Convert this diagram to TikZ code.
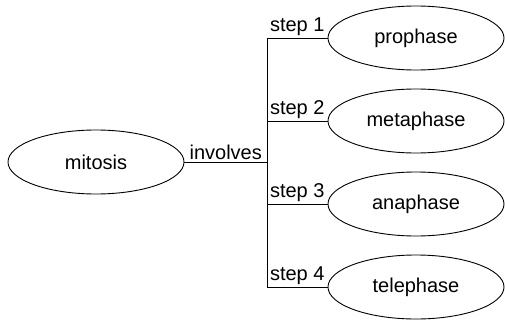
\documentclass[tikz,border=0pt]{standalone}
\usepackage{fontspec}
\setmainfont{Liberation Sans}
\usepackage{tikz}
\usetikzlibrary{shapes.geometric}

\tikzset{
	phase/.style={ellipse, draw, line width=0.9pt, minimum width=176pt, minimum height=64pt, inner sep=0pt},
	steplabel/.style={above, inner sep=1.5pt}
}

\begin{document}
\begin{tikzpicture}[x=1pt, y=-1pt, line width=0.9pt, font=\fontsize{20}{24}\selectfont]
	\useasboundingbox (0,0) rectangle (505,321);
	\node[phase] (mitosis) at (96,162) {mitosis};
	\node[phase] (prophase) at (416,38) {prophase};
	\node[phase] (metaphase) at (416,121) {metaphase};
	\node[phase] (anaphase) at (416,204) {anaphase};
	\node[phase] (telephase) at (416,287) {telephase};
	\coordinate (hub) at (267,162);
	\coordinate (b1) at (267,38);
	\coordinate (b2) at (267,121);
	\coordinate (b3) at (267,204);
	\coordinate (b4) at (267,287);
	\draw (mitosis.east) -- node[steplabel] {involves} (hub);
	\draw (b1) -- (b4);
	\draw (b1) -- node[steplabel] {step 1} (prophase.west);
	\draw (b2) -- node[steplabel] {step 2} (metaphase.west);
	\draw (b3) -- node[steplabel] {step 3} (anaphase.west);
	\draw (b4) -- node[steplabel] {step 4} (telephase.west);
\end{tikzpicture}
\end{document}
